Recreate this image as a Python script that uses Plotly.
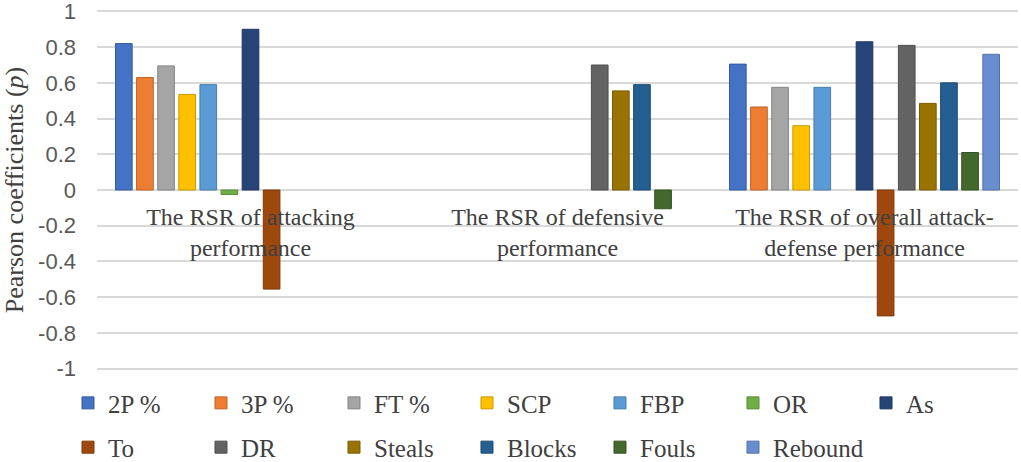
import plotly.graph_objects as go

categories = [
    "The RSR of attacking<br>performance",
    "The RSR of defensive<br>performance",
    "The RSR of overall attack-<br>defense performance",
]

series_names = ["2P %", "3P %", "FT %", "SCP", "FBP", "OR", "As",
                "To", "DR", "Steals", "Blocks", "Fouls", "Rebound"]

two_p = [0.82, None, 0.705]
three_p = [0.63, None, 0.465]
ft = [0.695, None, 0.575]
scp = [0.535, None, 0.36]
fbp = [0.59, None, 0.575]
off_reb = [-0.025, None, None]
assists = [0.90, None, 0.83]
turnovers = [-0.555, None, -0.705]
def_reb = [None, 0.70, 0.81]
steals = [None, 0.555, 0.485]
blocks = [None, 0.59, 0.60]
fouls = [None, -0.105, 0.21]
rebound = [None, None, 0.76]

series_values = [two_p, three_p, ft, scp, fbp, off_reb, assists,
                 turnovers, def_reb, steals, blocks, fouls, rebound]

y_ticks = [-1, -0.8, -0.6, -0.4, -0.2, 0, 0.2, 0.4, 0.6, 0.8, 1]
y_tick_labels = ["-1", "-0.8", "-0.6", "-0.4", "-0.2", "0",
                 "0.2", "0.4", "0.6", "0.8", "1"]

colors = ["#4472C4", "#ED7D31", "#A5A5A5", "#FFC000", "#5B9BD5", "#70AD47",
          "#264478", "#9E480E", "#636363", "#997300", "#255E91", "#43682B",
          "#698ED0"]


def darker(hex_color, f=0.8):
    r, g, b = (int(hex_color[i:i + 2], 16) for i in (1, 3, 5))
    return "rgb({},{},{})".format(int(r * f), int(g * f), int(b * f))


serif = "Liberation Serif, Times New Roman, serif"
text_color = "#404040"

fig = go.Figure()
for i, (name, vals, col) in enumerate(zip(series_names, series_values, colors)):
    fig.add_trace(go.Bar(
        x=categories, y=vals, name=name,
        marker=dict(color=col, line=dict(color=darker(col), width=1)),
        legend="legend" if i < 7 else "legend2",
    ))

# two legend rows, placed by hand below the plot area
legend_font = dict(family=serif, size=25, color=text_color)
for key, ypos in (("legend", -0.092), ("legend2", -0.215)):
    fig.layout[key] = dict(
        orientation="h", xanchor="left", yanchor="middle", x=-0.0315, y=ypos,
        entrywidth=88, entrywidthmode="pixels",
        font=legend_font, bgcolor="rgba(0,0,0,0)", traceorder="normal",
    )

fig.update_layout(
    template="none",
    width=1021, height=462,
    margin=dict(l=97, r=3, t=10, b=92, autoexpand=False),
    font=dict(family=serif, color=text_color),
    paper_bgcolor="white", plot_bgcolor="white",
    barmode="group", bargap=0.106, bargroupgap=0.21,
    showlegend=True,
    xaxis=dict(
        type="category", anchor="free", position=0.5,
        showgrid=False, showline=False, zeroline=False, ticks="",
        tickfont=dict(family=serif, size=24, color=text_color),
        ticklabelstandoff=10, automargin=False,
    ),
    yaxis=dict(
        range=[-1.008, 1.008], tickvals=y_ticks, ticktext=y_tick_labels,
        showgrid=True, gridcolor="#D9D9D9", gridwidth=2,
        zeroline=True, zerolinecolor="#D9D9D9", zerolinewidth=2,
        showline=False, ticks="",
        tickfont=dict(family="Liberation Sans", size=22, color="#595959"),
        ticklabelstandoff=20, ticklabeloverflow="allow", automargin=False,
        title=dict(text="Pearson coefficients (<i>p</i>)",
                   font=dict(family=serif, size=26, color=text_color),
                   standoff=8),
    ),
)

# drop the browser's default 8px body margin so the figure sits at 0,0
fig.write_html("out.html", config={"displayModeBar": False},
               post_script="document.body.style.margin = '0';")
